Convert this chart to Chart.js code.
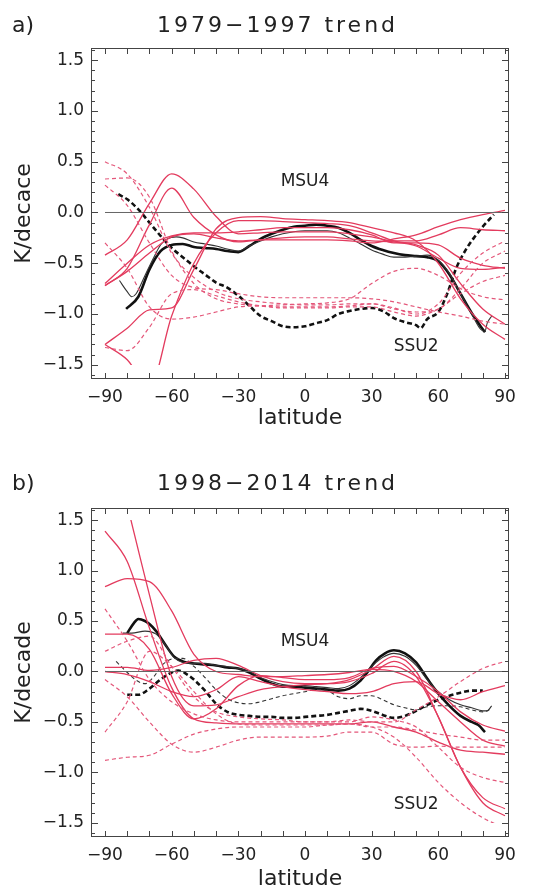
<!DOCTYPE html>
<html>
<head>
<meta charset="utf-8">
<script src="https://cdn.jsdelivr.net/npm/chart.js@4/dist/chart.umd.min.js"></script>
<style>
html,body{margin:0;padding:0;background:#fff;width:537px;height:890px;overflow:hidden;font-family:"DejaVu Sans",sans-serif;}
.panel{position:absolute;left:0;width:537px;height:445px;}
.lbl{position:absolute;font-size:22px;line-height:22px;color:#222;white-space:nowrap;}
</style>
</head>
<body>
<div class="panel" style="top:0"><canvas id="ca" width="537" height="445"></canvas></div>
<div class="panel" style="top:445px"><canvas id="cb" width="537" height="445"></canvas></div>
<div class="lbl" style="left:12px;top:14px">a)</div>
<div class="lbl" style="left:157px;top:14px;letter-spacing:3px">1979−1997 trend</div>
<div class="lbl" style="left:12px;top:472px">b)</div>
<div class="lbl" style="left:157px;top:472px;letter-spacing:3px">1998−2014 trend</div>
<script>
// ---------- axes / ticks ----------
const xTicks = [-90, -60, -30, 0, 30, 60, 90];
const yTicks = [-1.5, -1.0, -0.5, 0.0, 0.5, 1.0, 1.5];
const zeroLat = [-90, 90];
const zeroVal = [0, 0];

// ---------- model latitude grid ----------
const latM = [-90,-80,-70,-60,-50,-40,-30,-20,-10,0,10,20,30,40,50,60,70,80,90];

// ---------- panel a: 1979-1997 ----------
const aMsu4Mod1 = [-0.42,-0.27,0.09,0.38,0.23,-0.04,-0.21,-0.2,-0.19,-0.19,-0.19,-0.21,-0.24,-0.28,-0.28,-0.22,-0.15,-0.17,-0.18];
const aMsu4Mod2 = [-0.72,-0.55,-0.12,0.24,-0.05,-0.22,-0.29,-0.27,-0.25,-0.24,-0.24,-0.26,-0.28,-0.29,-0.33,-0.45,-0.55,-0.56,-0.54];
const aMsu4Mod3 = [-0.72,-0.58,-0.4,-0.24,-0.21,-0.25,-0.28,-0.27,-0.27,-0.27,-0.27,-0.28,-0.3,-0.26,-0.22,-0.14,-0.07,-0.02,0.02];
const aMsu4Mod4 = [-1.3,-1.14,-0.96,-0.94,-0.56,-0.16,-0.05,-0.04,-0.06,-0.07,-0.08,-0.1,-0.15,-0.2,-0.28,-0.5,-0.85,-1.1,-1.25];
const aMsu4Mod5 = [-1.3,-1.45,-1.72,-1.02,-0.5,-0.2,-0.08,-0.08,-0.09,-0.1,-0.11,-0.13,-0.2,-0.28,-0.32,-0.42,-0.7,-0.95,-1.1];
const aMsu4Mod6 = [-0.7,-0.5,-0.32,-0.23,-0.2,-0.2,-0.19,-0.17,-0.15,-0.15,-0.15,-0.17,-0.22,-0.3,-0.3,-0.32,-0.45,-0.52,-0.55];

const aSsu2Mod1 = [0.5,0.38,0.05,-0.4,-0.64,-0.78,-0.85,-0.88,-0.9,-0.91,-0.91,-0.9,-0.9,-0.94,-1.0,-0.9,-0.6,-0.4,-0.28];
const aSsu2Mod2 = [0.33,0.34,0.15,-0.38,-0.7,-0.85,-0.9,-0.92,-0.93,-0.93,-0.93,-0.92,-0.9,-0.95,-0.98,-0.95,-0.75,-0.5,-0.38];
const aSsu2Mod3 = [0.27,0.07,-0.3,-0.62,-0.74,-0.76,-0.8,-0.83,-0.84,-0.84,-0.84,-0.84,-0.85,-0.88,-0.93,-0.98,-1.02,-1.07,-1.1];
const aSsu2Mod4 = [-0.3,-0.55,-0.93,-1.05,-1.03,-0.98,-0.93,-0.92,-0.91,-0.9,-0.89,-0.85,-0.7,-0.58,-0.55,-0.62,-0.75,-0.83,-0.86];
const aSsu2Mod5 = [-1.33,-1.36,-1.13,-0.8,-0.76,-0.82,-0.88,-0.92,-0.94,-0.94,-0.94,-0.93,-0.93,-0.98,-1.02,-0.95,-0.8,-0.68,-0.62];

const aObsMsu4Lat = [-80.5,-75,-70,-65,-60,-55,-50,-45,-40,-35,-30,-25,-20,-15,-10,-5,0,5,10,15,20,25,30,35,40,45,50,55,60,65,70,75,80,81];
const aObsMsu4    = [-0.95,-0.83,-0.56,-0.38,-0.32,-0.31,-0.34,-0.35,-0.36,-0.38,-0.39,-0.33,-0.26,-0.21,-0.17,-0.14,-0.13,-0.12,-0.13,-0.15,-0.2,-0.27,-0.33,-0.37,-0.4,-0.42,-0.43,-0.44,-0.48,-0.61,-0.8,-0.99,-1.15,-1.18];
const aObsMsu4bLat = [-83.5,-80,-78,-76,-72,-68,-65,-62,-58,-55,-50,-45,-40,-35,-30,-25,-20,-15,-10,-5,0,5,10,15,20,25,30,35,40,45,50,55,60,65,70,75,79,81,82,84];
const aObsMsu4b    = [-0.67,-0.78,-0.83,-0.8,-0.62,-0.44,-0.32,-0.26,-0.24,-0.25,-0.29,-0.31,-0.33,-0.36,-0.38,-0.33,-0.28,-0.24,-0.21,-0.19,-0.18,-0.18,-0.18,-0.2,-0.25,-0.31,-0.37,-0.41,-0.44,-0.44,-0.43,-0.42,-0.47,-0.6,-0.8,-1.0,-1.15,-1.17,-1.09,-1.02];
const aObsSsu2Lat = [-84,-80,-75,-70,-65,-60,-55,-50,-45,-40,-35,-30,-25,-20,-15,-10,-5,0,5,10,15,20,25,30,35,40,45,50,52,55,60,64,68,72,76,80,85];
const aObsSsu2    = [0.18,0.13,0.03,-0.1,-0.23,-0.35,-0.44,-0.53,-0.61,-0.69,-0.74,-0.82,-0.92,-1.02,-1.07,-1.12,-1.13,-1.12,-1.09,-1.06,-1.0,-0.97,-0.95,-0.94,-0.97,-1.04,-1.08,-1.11,-1.14,-1.05,-0.98,-0.8,-0.55,-0.38,-0.25,-0.14,-0.02];

// ---------- panel b: 1998-2014 ----------
const bMsu4Mod1 = [1.39,1.09,0.43,-0.16,-0.47,-0.51,-0.52,-0.52,-0.52,-0.52,-0.52,-0.52,-0.5,-0.55,-0.6,-0.7,-0.78,-0.8,-0.82];
const bMsu4Mod2 = [null,1.65,0.76,-0.05,-0.34,-0.33,-0.25,-0.18,-0.15,-0.13,-0.12,-0.08,0.02,0.15,0.0,-0.45,-0.95,-1.25,-1.36];
const bMsu4Mod3 = [0.84,0.92,0.89,0.6,0.17,0.0,-0.03,-0.05,-0.05,-0.04,-0.03,-0.01,0.02,0.0,-0.1,-0.3,-0.5,-0.68,-0.74];
const bMsu4Mod4 = [0.37,0.37,0.22,-0.22,-0.47,-0.37,-0.14,-0.04,-0.06,-0.08,-0.08,-0.06,0.03,0.05,-0.05,-0.2,-0.4,-0.53,-0.59];
const bMsu4Mod5 = [0.04,0.04,0.01,0.04,0.11,0.13,0.06,-0.04,-0.1,-0.12,-0.12,-0.1,-0.02,0.1,-0.05,-0.45,-0.95,-1.3,-1.43];
const bMsu4Mod6 = [0.0,-0.03,-0.1,-0.2,-0.25,-0.18,-0.05,-0.1,-0.15,-0.18,-0.2,-0.22,-0.2,-0.12,-0.1,-0.22,-0.28,-0.2,-0.14];

const bSsu2Mod1 = [0.62,0.3,-0.08,-0.3,-0.42,-0.48,-0.5,-0.5,-0.5,-0.5,-0.5,-0.48,-0.5,-0.5,-0.38,-0.25,-0.1,0.03,0.1];
const bSsu2Mod2 = [-0.08,-0.25,-0.5,-0.72,-0.8,-0.75,-0.68,-0.65,-0.65,-0.65,-0.64,-0.6,-0.6,-0.72,-0.75,-0.74,-0.75,-0.75,-0.75];
const bSsu2Mod3 = [-0.6,-0.3,0.2,0.05,-0.2,-0.42,-0.52,-0.53,-0.53,-0.53,-0.53,-0.52,-0.55,-0.55,-0.58,-0.62,-0.65,-0.68,-0.68];
const bSsu2Mod4 = [-0.88,-0.85,-0.83,-0.72,-0.62,-0.57,-0.55,-0.55,-0.55,-0.55,-0.53,-0.52,-0.55,-0.65,-0.85,-1.1,-1.3,-1.45,-1.55];
const bSsu2Mod5 = [0.2,0.3,0.35,0.05,-0.25,-0.4,-0.45,-0.47,-0.48,-0.5,-0.5,-0.5,-0.45,-0.48,-0.55,-0.75,-0.95,-1.05,-1.1];

const bObsMsu4Lat = [-80,-77,-75,-72,-70,-67,-63,-59,-55,-50,-45,-40,-35,-30,-25,-20,-15,-10,-5,0,5,10,15,20,25,28,32,36,40,45,50,55,60,65,70,75,78,81];
const bObsMsu4    = [0.38,0.48,0.52,0.5,0.47,0.4,0.27,0.15,0.1,0.08,0.07,0.06,0.04,0.03,-0.01,-0.07,-0.12,-0.15,-0.15,-0.16,-0.17,-0.18,-0.19,-0.17,-0.09,-0.01,0.11,0.18,0.21,0.18,0.09,-0.07,-0.22,-0.34,-0.44,-0.5,-0.53,-0.6];
const bObsMsu4bLat = [-82,-78,-72,-67,-63,-59,-55,-50,-45,-40,-35,-30,-25,-20,-15,-10,-5,0,5,10,15,20,25,30,35,40,45,50,55,60,65,70,75,80,82,84];
const bObsMsu4b    = [0.38,0.38,0.4,0.37,0.27,0.14,0.09,0.08,0.08,0.06,0.05,0.03,0.0,-0.06,-0.1,-0.13,-0.14,-0.14,-0.15,-0.16,-0.17,-0.14,-0.06,0.05,0.14,0.18,0.15,0.06,-0.08,-0.2,-0.28,-0.33,-0.36,-0.39,-0.39,-0.34];
const bObsSsu2Lat = [-80,-75,-70,-65,-60,-57,-53,-50,-45,-40,-35,-30,-25,-20,-15,-10,-5,0,5,10,15,20,25,30,35,40,45,50,55,60,65,70,75,80];
const bObsSsu2    = [-0.23,-0.23,-0.17,-0.08,-0.01,0.01,-0.03,-0.08,-0.19,-0.32,-0.4,-0.43,-0.44,-0.45,-0.45,-0.46,-0.46,-0.45,-0.44,-0.43,-0.41,-0.39,-0.37,-0.39,-0.43,-0.46,-0.44,-0.39,-0.33,-0.28,-0.24,-0.21,-0.19,-0.19];
const bObsSsu2bLat = [-85,-80,-75,-72,-68,-64,-58,-55,-50,-45,-40,-35,-30,-25,-20,-15,-10,-5,0,5,10,15,20,25,30,35,40,45,50,55,60,65,70,75,80,83];
const bObsSsu2b    = [0.1,-0.01,-0.1,-0.12,-0.05,0.07,0.13,0.13,0.05,-0.06,-0.18,-0.27,-0.31,-0.32,-0.3,-0.27,-0.24,-0.22,-0.2,-0.18,-0.19,-0.25,-0.27,-0.24,-0.24,-0.28,-0.33,-0.36,-0.38,-0.35,-0.34,-0.34,-0.35,-0.38,-0.4,-0.38];

// ---------- styling ----------
const FONT = '"DejaVu Sans", sans-serif';
const TXT = '#222';
const RED = '#e33b5e';
const RED_D = '#e4577a';
const X_MIN = -96.3, X_MAX = 91.8, Y_MIN = -1.64, Y_MAX = 1.62;
const CLIP = {left: 0, top: -12, right: 0, bottom: -14};

function pts(lats, vals) {
  const o = [];
  for (let i = 0; i < lats.length; i++) {
    if (vals[i] !== null && vals[i] !== undefined) o.push({x: lats[i], y: vals[i]});
  }
  return o;
}
function ds(data, color, width, dash) {
  return {data, borderColor: color, borderWidth: width, borderDash: dash || [],
          pointRadius: 0, fill: false, cubicInterpolationMode: 'monotone', clip: CLIP};
}
function minus(v, d) {
  const s = Math.abs(v).toFixed(d);
  return v < -1e-9 ? '\u2212' + s : s;
}

const framePlugin = {
  id: 'frame',
  afterDraw(chart) {
    const {ctx, chartArea: a, scales: {x, y}} = chart;
    ctx.save();
    ctx.strokeStyle = '#444';
    ctx.lineWidth = 1;
    ctx.strokeRect(a.left + 0.5, a.top + 0.5, a.right - a.left - 1, a.bottom - a.top - 1);
    ctx.beginPath();
    for (let k = -9; k <= 9; k++) {
      const px = Math.round(x.getPixelForValue(k * 10)) + 0.5;
      ctx.moveTo(px, a.bottom); ctx.lineTo(px, a.bottom - 6);
      ctx.moveTo(px, a.top); ctx.lineTo(px, a.top + 6);
    }
    for (let k = -16; k <= 16; k++) {
      const py = Math.round(y.getPixelForValue(k / 10)) + 0.5;
      const len = (k % 5 === 0) ? 7 : 4;
      ctx.moveTo(a.left, py); ctx.lineTo(a.left + len, py);
      ctx.moveTo(a.right, py); ctx.lineTo(a.right - len, py);
    }
    ctx.stroke();
    ctx.fillStyle = TXT;
    ctx.font = '17px ' + FONT;
    ctx.textAlign = 'center';
    ctx.textBaseline = 'middle';
    ctx.fillText('MSU4', x.getPixelForValue(0), y.getPixelForValue(0.3));
    ctx.fillText('SSU2', x.getPixelForValue(50), y.getPixelForValue(-1.32));
    ctx.restore();
  }
};

function makeChart(id, cfg) {
  return new Chart(document.getElementById(id), {
    type: 'line',
    data: {datasets: cfg.datasets},
    options: {
      responsive: false,
      animation: false,
      events: [],
      layout: {padding: {top: cfg.top, right: 28, left: 0, bottom: 0}},
      plugins: {legend: {display: false}, tooltip: {enabled: false}},
      scales: {
        x: {
          type: 'linear', min: X_MIN, max: X_MAX,
          afterFit: s => { s.height = cfg.xh; },
          afterBuildTicks: s => { s.ticks = xTicks.map(v => ({value: v})); },
          ticks: {padding: 8, color: TXT, font: {family: FONT, size: 17}, maxRotation: 0, autoSkip: false,
                  callback: v => minus(v, 0)},
          grid: {display: false, drawTicks: false},
          border: {display: false},
          title: {display: true, text: 'latitude', color: TXT,
                  font: {family: FONT, size: 22, lineHeight: 1}, padding: {top: 0, bottom: cfg.xtp}}
        },
        y: {
          type: 'linear', min: Y_MIN, max: Y_MAX,
          afterFit: s => { s.width = 91; },
          afterBuildTicks: s => { s.ticks = yTicks.map(v => ({value: v})); },
          ticks: {padding: 7, color: TXT, font: {family: FONT, size: 17}, callback: v => minus(v, 1)},
          grid: {display: false, drawTicks: false},
          border: {display: false},
          title: {display: true, text: cfg.ylabel, color: TXT,
                  font: {family: FONT, size: 22, lineHeight: 1}, padding: {top: 13, bottom: 0}}
        }
      }
    },
    plugins: [framePlugin]
  });
}

makeChart('ca', {
  top: 48, xh: 66, xtp: 16, ylabel: 'K/decace',
  datasets: [
    ds(pts(zeroLat, zeroVal), '#666', 1),
    ds(pts(latM, aSsu2Mod1), RED_D, 1.2, [4, 3]),
    ds(pts(latM, aSsu2Mod2), RED_D, 1.2, [4, 3]),
    ds(pts(latM, aSsu2Mod3), RED_D, 1.2, [4, 3]),
    ds(pts(latM, aSsu2Mod4), RED_D, 1.2, [4, 3]),
    ds(pts(latM, aSsu2Mod5), RED_D, 1.2, [4, 3]),
    ds(pts(latM, aMsu4Mod1), RED, 1.3),
    ds(pts(latM, aMsu4Mod2), RED, 1.3),
    ds(pts(latM, aMsu4Mod3), RED, 1.3),
    ds(pts(latM, aMsu4Mod4), RED, 1.3),
    ds(pts(latM, aMsu4Mod5), RED, 1.3),
    ds(pts(latM, aMsu4Mod6), RED, 1.3),
    ds(pts(aObsMsu4bLat, aObsMsu4b), '#333', 1.1),
    ds(pts(aObsSsu2Lat, aObsSsu2), '#111', 2.6, [5, 3]),
    ds(pts(aObsMsu4Lat, aObsMsu4), '#111', 2.6)
  ]
});

makeChart('cb', {
  top: 63, xh: 53, xtp: 0, ylabel: 'K/decade',
  datasets: [
    ds(pts(zeroLat, zeroVal), '#666', 1),
    ds(pts(latM, bSsu2Mod1), RED_D, 1.2, [4, 3]),
    ds(pts(latM, bSsu2Mod2), RED_D, 1.2, [4, 3]),
    ds(pts(latM, bSsu2Mod3), RED_D, 1.2, [4, 3]),
    ds(pts(latM, bSsu2Mod4), RED_D, 1.2, [4, 3]),
    ds(pts(latM, bSsu2Mod5), RED_D, 1.2, [4, 3]),
    ds(pts(latM, bMsu4Mod1), RED, 1.3),
    ds(pts(latM, bMsu4Mod2), RED, 1.3),
    ds(pts(latM, bMsu4Mod3), RED, 1.3),
    ds(pts(latM, bMsu4Mod4), RED, 1.3),
    ds(pts(latM, bMsu4Mod5), RED, 1.3),
    ds(pts(latM, bMsu4Mod6), RED, 1.3),
    ds(pts(bObsSsu2bLat, bObsSsu2b), '#333', 1.1, [4, 3]),
    ds(pts(bObsMsu4bLat, bObsMsu4b), '#333', 1.1),
    ds(pts(bObsSsu2Lat, bObsSsu2), '#111', 2.6, [5, 3]),
    ds(pts(bObsMsu4Lat, bObsMsu4), '#111', 2.6)
  ]
});
</script>
</body>
</html>
